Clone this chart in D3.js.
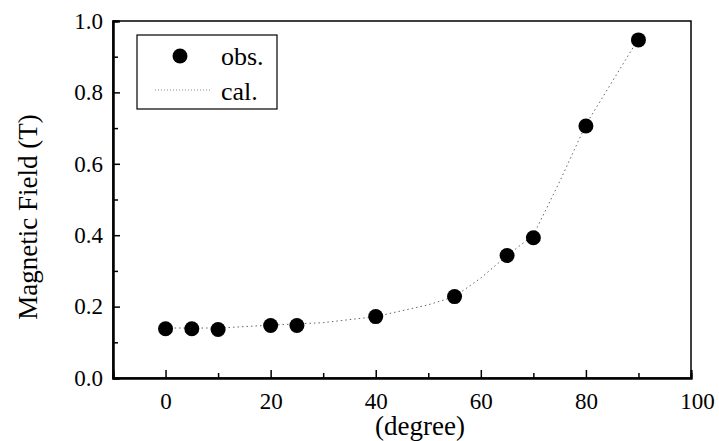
<body style="margin:0;background:#fff">
<script src="https://d3js.org/d3.v7.min.js"></script>
<script>
  var svgArea = { width: 719, height: 441 };
  var margin = { left: 113, right: 28, top: 21, bottom: 63 };

  // observed points
  var obsAngle = [0, 5, 10, 20, 25, 40, 55, 65, 70, 80, 90];
  var obsField = [0.138, 0.138, 0.136, 0.147, 0.147, 0.172, 0.228, 0.343, 0.393, 0.706, 0.947];

  // calculated curve
  var calAngle = [0, 10, 20, 30, 40, 50, 55, 60, 65, 70, 75, 80, 85, 90];
  var calField = [0.14, 0.14, 0.148, 0.155, 0.172, 0.205, 0.228, 0.28, 0.343, 0.40, 0.55, 0.71, 0.83, 0.95];

  var xTicks = [0, 20, 40, 60, 80, 100];
  var xMinor = [10, 30, 50, 70, 90];
  var yTicks = [0.0, 0.2, 0.4, 0.6, 0.8, 1.0];
  var yMinor = [0.1, 0.3, 0.5, 0.7, 0.9];

  var font = 'Liberation Serif, serif';

  const svg = d3.select('body').append('svg')
    .attr('width', svgArea.width)
    .attr('height', svgArea.height)
    .attr('font-family', font);

  var x = d3.scaleLinear().domain([-10, 100])
    .range([margin.left, svgArea.width - margin.right]);
  var y = d3.scaleLinear().domain([0, 1])
    .range([svgArea.height - margin.bottom, margin.top]);

  // frame
  svg.append('rect')
    .attr('x', x(-10)).attr('y', y(1))
    .attr('width', x(100) - x(-10)).attr('height', y(0) - y(1))
    .attr('fill', 'none').attr('stroke', '#000').attr('stroke-width', 1.5);

  // bottom axis, ticks inward
  var xAxis = svg.append('g').attr('transform', 'translate(0,' + y(0) + ')')
    .call(d3.axisBottom(x).tickValues(xTicks).tickSize(-8).tickPadding(15)
      .tickFormat(d3.format('d')));
  svg.append('g').attr('transform', 'translate(0,' + y(0) + ')')
    .call(d3.axisBottom(x).tickValues(xMinor).tickSize(-5).tickFormat(''));

  var yAxis = svg.append('g').attr('transform', 'translate(' + x(-10) + ',0)')
    .call(d3.axisLeft(y).tickValues(yTicks).tickSize(-7).tickPadding(10)
      .tickFormat(d3.format('.1f')));
  svg.append('g').attr('transform', 'translate(' + x(-10) + ',0)')
    .call(d3.axisLeft(y).tickValues(yMinor).tickSize(-5).tickFormat(''));

  svg.selectAll('g').attr('font-family', font);
  svg.selectAll('.domain').attr('stroke-width', 2);
  svg.selectAll('.tick line').attr('stroke-width', 1.5);
  svg.selectAll('.tick text').attr('font-size', 23).attr('fill', '#000');
  xAxis.selectAll('.tick').filter(d => d === 100).select('text').attr('dx', 6);

  // calc line
  var line = d3.line().x((d, i) => x(calAngle[i])).y(d => y(d));
  svg.append('path')
    .datum(calField)
    .attr('d', line)
    .attr('fill', 'none')
    .attr('stroke', '#666')
    .attr('stroke-width', 1)
    .attr('stroke-dasharray', '1.5,3');

  // observed dots
  svg.append('g').selectAll('circle')
    .data(obsField)
    .join('circle')
      .attr('cx', (d, i) => x(obsAngle[i]))
      .attr('cy', d => y(d))
      .attr('r', 7.5)
      .attr('fill', '#000');

  // legend
  var lg = svg.append('g');
  lg.append('rect').attr('x', 137).attr('y', 35).attr('width', 140).attr('height', 74)
    .attr('fill', '#fff').attr('stroke', '#000').attr('stroke-width', 1.2);
  lg.append('circle').attr('cx', 180).attr('cy', 56).attr('r', 7.5).attr('fill', '#000');
  lg.append('line').attr('x1', 155).attr('x2', 210).attr('y1', 90).attr('y2', 90)
    .attr('stroke', '#888').attr('stroke-width', 1).attr('stroke-dasharray', '1,2');
  lg.append('text').attr('x', 221).attr('y', 65).text('obs.').attr('font-size', 26);
  lg.append('text').attr('x', 221).attr('y', 100).text('cal.').attr('font-size', 26);

  // axis titles
  svg.append('text')
    .attr('transform', 'translate(37,217) rotate(-90)')
    .attr('text-anchor', 'middle')
    .attr('font-size', 27)
    .text('Magnetic Field (T)');
  svg.append('text')
    .attr('x', 420).attr('y', 435)
    .attr('text-anchor', 'middle')
    .attr('font-size', 27)
    .text('(degree)');
</script>
</body>
